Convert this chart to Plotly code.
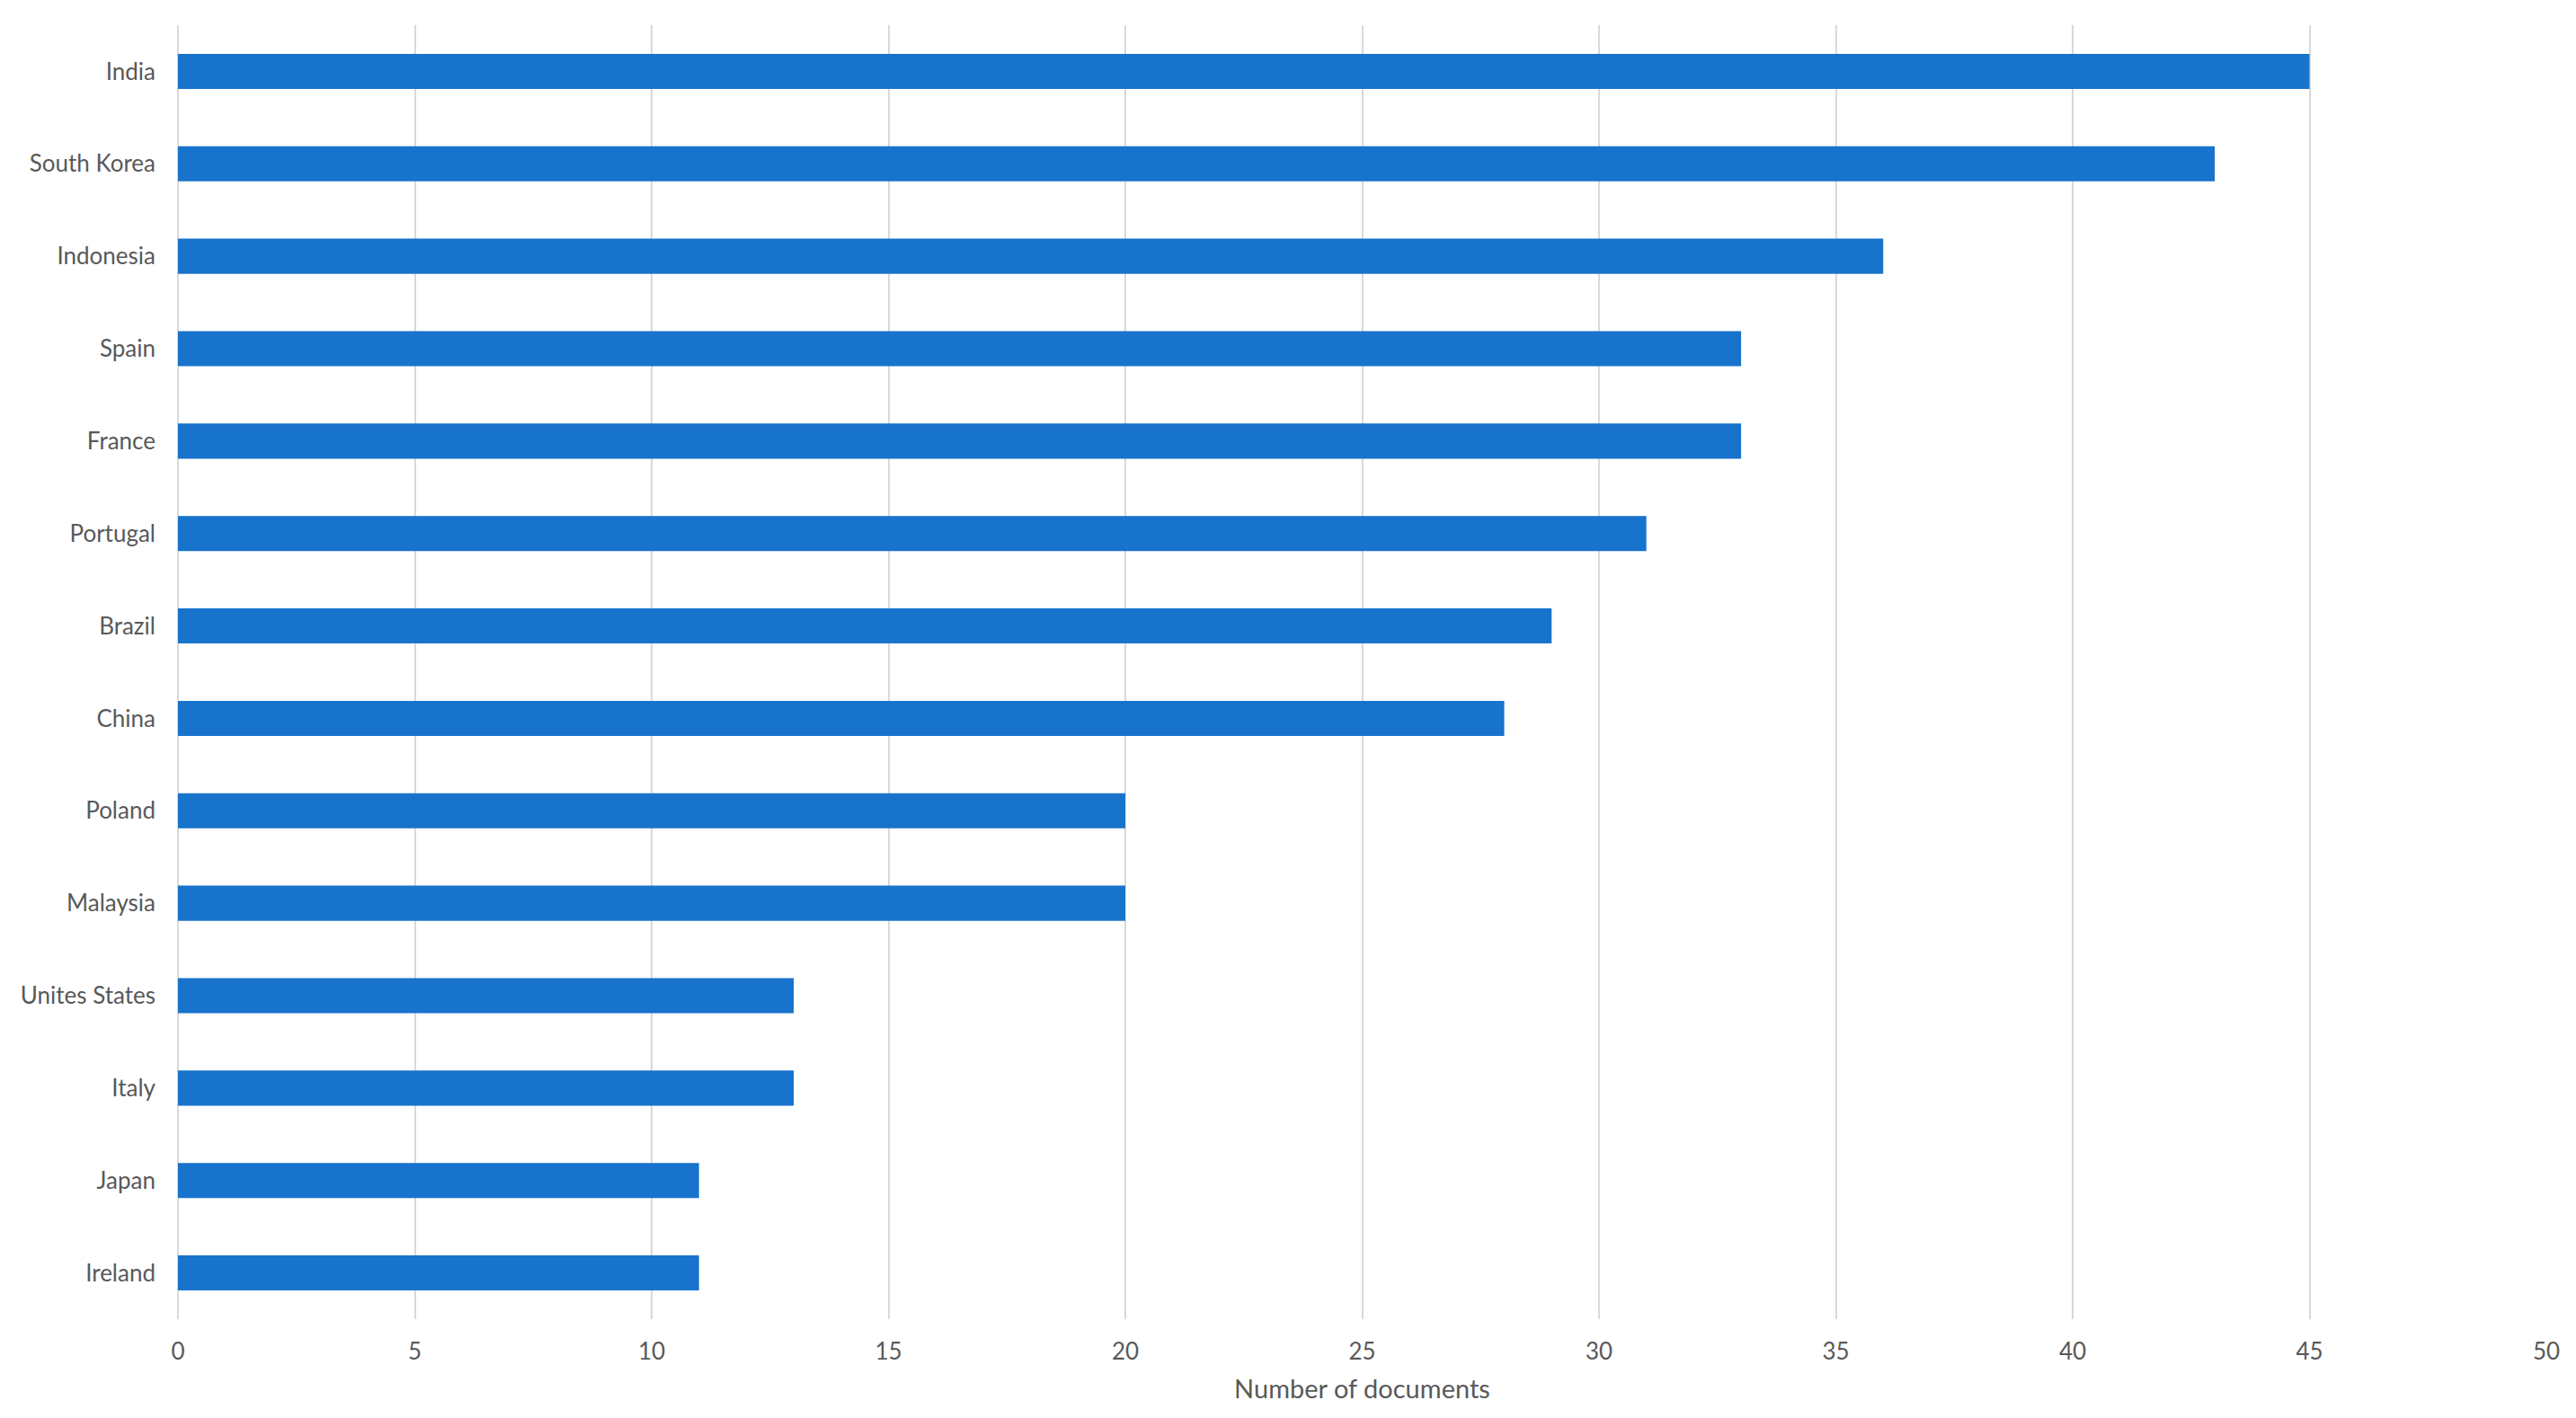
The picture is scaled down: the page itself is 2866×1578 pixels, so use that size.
import plotly.graph_objects as go

countries = ["India", "South Korea", "Indonesia", "Spain", "France", "Portugal", "Brazil",
             "China", "Poland", "Malaysia", "Unites States", "Italy", "Japan", "Ireland"]
documents = [45, 43, 36, 33, 33, 31, 29, 28, 20, 20, 13, 13, 11, 11]
x_ticks = [0, 5, 10, 15, 20, 25, 30, 35, 40, 45, 50]

FONT = "Lato, 'Open Sans', sans-serif"
GRAY = "#595959"

fig = go.Figure(go.Bar(
    x=documents,
    y=countries,
    orientation="h",
    marker=dict(color="#1873CC", line=dict(width=0)),
    width=0.38,
))

fig.update_layout(
    width=2866, height=1578,
    paper_bgcolor="white", plot_bgcolor="white",
    margin=dict(l=190, r=41, t=20, b=118),
    font=dict(family=FONT, color=GRAY, size=26),
    showlegend=False,
)
fig.update_xaxes(
    range=[0, 50], tickvals=x_ticks, ticktext=[str(v) for v in x_ticks],
    showgrid=True, gridcolor="#D9D9D9", gridwidth=2,
    zeroline=True, zerolinecolor="#D9D9D9", zerolinewidth=2,
    showline=False, ticks="", ticklabelstandoff=18,
    tickfont=dict(size=26, color=GRAY),
    title=dict(text="Number of documents", font=dict(size=29, color=GRAY), standoff=17),
    automargin=False, fixedrange=True,
)
fig.update_yaxes(
    categoryorder="array", categoryarray=countries[::-1],
    showgrid=False, showline=False, ticks="", ticklabelstandoff=24,
    tickfont=dict(size=26, color=GRAY),
    automargin=False, fixedrange=True,
)

fig.write_html("out.html")
